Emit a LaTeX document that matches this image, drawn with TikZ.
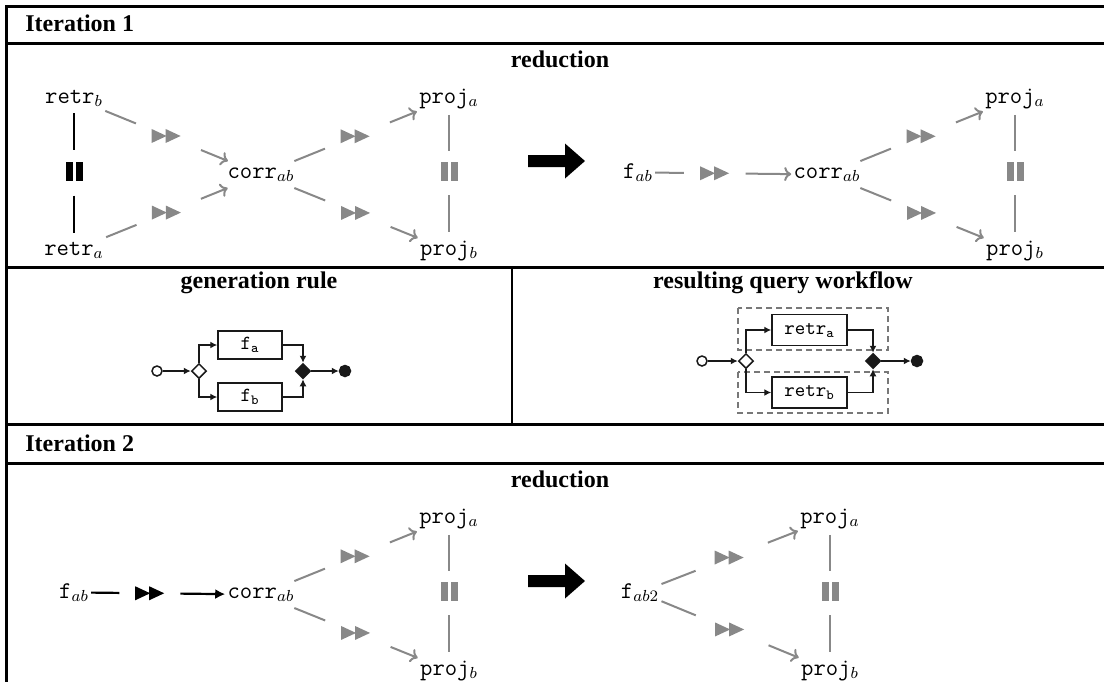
\documentclass[tikz,border=0pt]{standalone}
\usepackage{fontspec}
\setmainfont{Liberation Serif}
\usetikzlibrary{arrows.meta,calc,shapes.geometric}
\definecolor{cg}{RGB}{136,136,136}
\definecolor{ink}{RGB}{25,25,25}
\definecolor{dgray}{RGB}{120,120,120}
\tikzset{
  frame/.style={line width=1.5pt},
  ttl/.style={font=\fontsize{12}{14}\selectfont\bfseries, inner sep=0pt},
  lab/.style={font=\fontsize{12}{14}\selectfont\ttfamily, inner xsep=1pt, inner ysep=3pt},
  gline/.style={draw=cg, line width=1pt},
  garrow/.style={gline, -{To[length=3.5pt,width=7pt]}},
  gff/.style={color=cg},
  bline/.style={draw=black, line width=1.1pt},
  barrow/.style={bline, -{Latex[length=5pt,width=5pt]}},
  bff/.style={color=black},
  ffw/.pic={\fill (-15,-7) -- (0,0) -- (-15,7) -- cycle; \fill (-1,-7) -- (14,0) -- (-1,7) -- cycle;},
  pause/.pic={\fill (-8.5,-9.5) rectangle (-1.5,9.5); \fill (1.5,-9.5) rectangle (8.5,9.5);},
  bigarrow/.pic={\fill (-28,-6) -- (9,-6) -- (9,-17.5) -- (29,0) -- (9,17.5) -- (9,6) -- (-28,6) -- cycle;},
  wf/.style={draw=ink, line width=0.75pt},
  wfarrow/.style={wf, -{Latex[length=3.5pt,width=3.5pt]}},
  task/.style={wf, rectangle, fill=white, minimum width=32pt, minimum height=14pt, inner sep=0pt, font=\fontsize{10}{11}\selectfont\ttfamily},
  startc/.style={wf, circle, fill=white, minimum size=5pt, inner sep=0pt},
  endc/.style={wf, circle, fill=ink, minimum size=5.5pt, inner sep=0pt},
  gw/.style={wf, diamond, fill=white, minimum size=7.5pt, inner sep=0pt},
  gwf/.style={wf, diamond, fill=ink, minimum size=7.5pt, inner sep=0pt},
  region/.style={draw=dgray, line width=0.7pt, dash pattern=on 3pt off 2pt},
}
\newcommand\ffedge[6]{%
  \path (#1) -- (#2) coordinate[pos=#3] (ff-a) coordinate[pos=#4] (ff-m) coordinate[pos=#5] (ff-b);
  \draw[#6line] (#1) -- (ff-a);
  \pic[#6ff] at (ff-m) {ffw};
  \draw[#6arrow] (ff-b) -- (#2);
}
\newcommand\pedge[3]{%
  \path (#1) -- (#2) coordinate[pos=0.3] (pe-a) coordinate[pos=0.475] (pe-m) coordinate[pos=0.675] (pe-b);
  \draw[#3line] (#1) -- (pe-a);
  \pic[#3ff] at (pe-m) {pause};
  \draw[#3line, shorten >=1pt] (pe-b) -- (#2);
}
\newcommand\diagedge[3]{\ffedge{#1}{#2}{0.25}{0.5}{0.78}{#3}}
\newcommand\horizedge[3]{\ffedge{#1}{#2}{0.21}{0.44}{0.665}{#3}}
\begin{document}
\begin{tikzpicture}[x=0.5pt,y=-0.5pt]
\useasboundingbox (0,0) rectangle (1104,681);
\clip (0,0) rectangle (1104,681);
% frame
\draw[frame] (6.5,6) -- (1120,6);
\draw[frame] (6.5,5.25) -- (6.5,700);
\foreach \yy in {43,267,424.5,463} \draw[frame] (6.5,\yy) -- (1120,\yy);
\draw[line width=0.8pt] (512,267) -- (512,424.5);
% titles
\node[ttl, anchor=base west] (it1) at (25,31) {Iteration 1};
\node[ttl, anchor=base] (red1) at (560,67) {reduction};
\node[ttl, anchor=base] (gen) at (259,288) {generation rule};
\node[ttl, anchor=base] (res) at (783,288) {resulting query workflow};
\node[ttl, anchor=base west] (it2) at (25,451) {Iteration 2};
\node[ttl, anchor=base] (red2) at (560,487) {reduction};

% ---- Iteration 1, left
\node[lab, anchor=base] (rb) at (74,103) {retr$_b$};
\node[lab, anchor=base] (ra) at (74,255) {retr$_a$};
\node[lab, anchor=base] (c1) at (261,178) {corr$_{ab}$};
\node[lab, anchor=base] (pa1) at (449,103) {proj$_a$};
\node[lab, anchor=base] (pb1) at (449,255) {proj$_b$};
\diagedge{rb}{c1}{g}
\diagedge{ra}{c1}{g}
\diagedge{c1}{pa1}{g}
\diagedge{c1}{pb1}{g}
\pedge{rb}{ra}{b}
\pedge{pa1}{pb1}{g}
\pic at (556,161) {bigarrow};
% ---- Iteration 1, right
\node[lab, anchor=base] (f1) at (638,178) {f$_{ab}$};
\node[lab, anchor=base] (c2) at (827,178) {corr$_{ab}$};
\node[lab, anchor=base] (pa2) at (1015,103) {proj$_a$};
\node[lab, anchor=base] (pb2) at (1015,255) {proj$_b$};
\horizedge{f1}{c2}{g}
\diagedge{c2}{pa2}{g}
\diagedge{c2}{pb2}{g}
\pedge{pa2}{pb2}{g}

% ---- generation rule
\node[startc] (gs) at (157,371) {};
\node[gw] (gd) at (199,371) {};
\node[task] (fa) at (250,345) {f$_{\mathtt{a}}$};
\node[task] (fb) at (250,397) {f$_{\mathtt{b}}$};
\node[gwf] (gj) at (303,371) {};
\node[endc] (ge) at (345,371) {};
\draw[wfarrow] (gs) -- (gd);
\draw[wfarrow] (gd) |- (fa);
\draw[wfarrow] (gd) |- (fb);
\draw[wfarrow] (fa) -| (gj);
\draw[wfarrow] (fb) -| (gj);
\draw[wfarrow] (gj) -- (ge);

% ---- resulting query workflow
\draw[region] (738,308) rectangle (888,350);
\draw[region] (738,372) rectangle (888,413);
\node[startc] (ws) at (702,361) {};
\node[gw] (wd) at (746,361) {};
\node[task, minimum width=37.5pt, minimum height=15.5pt] (wa) at (809.5,330) {retr$_{\mathtt{a}}$};
\node[task, minimum width=37.5pt, minimum height=15.5pt] (wb) at (809.5,392.5) {retr$_{\mathtt{b}}$};
\node[gwf] (wj) at (873,361) {};
\node[endc] (we) at (917,361) {};
\draw[wfarrow] (ws) -- (wd);
\draw[wfarrow] (wd) |- (wa);
\draw[wfarrow] (wd) |- (wb);
\draw[wfarrow] (wa) -| (wj);
\draw[wfarrow] (wb) -| (wj);
\draw[wfarrow] (wj) -- (we);

% ---- Iteration 2, left
\node[lab, anchor=base] (f2) at (74,598) {f$_{ab}$};
\node[lab, anchor=base] (c3) at (261,598) {corr$_{ab}$};
\node[lab, anchor=base] (pa3) at (449,523) {proj$_a$};
\node[lab, anchor=base] (pb3) at (449,675) {proj$_b$};
\horizedge{f2}{c3}{b}
\diagedge{c3}{pa3}{g}
\diagedge{c3}{pb3}{g}
\pedge{pa3}{pb3}{g}
\pic at (556,581) {bigarrow};
% ---- Iteration 2, right
\node[lab, anchor=base] (f3) at (640,598) {f$_{ab2}$};
\node[lab, anchor=base] (pa4) at (830,523) {proj$_a$};
\node[lab, anchor=base] (pb4) at (830,675) {proj$_b$};
\diagedge{f3}{pa4}{g}
\diagedge{f3}{pb4}{g}
\pedge{pa4}{pb4}{g}
\end{tikzpicture}
\end{document}
